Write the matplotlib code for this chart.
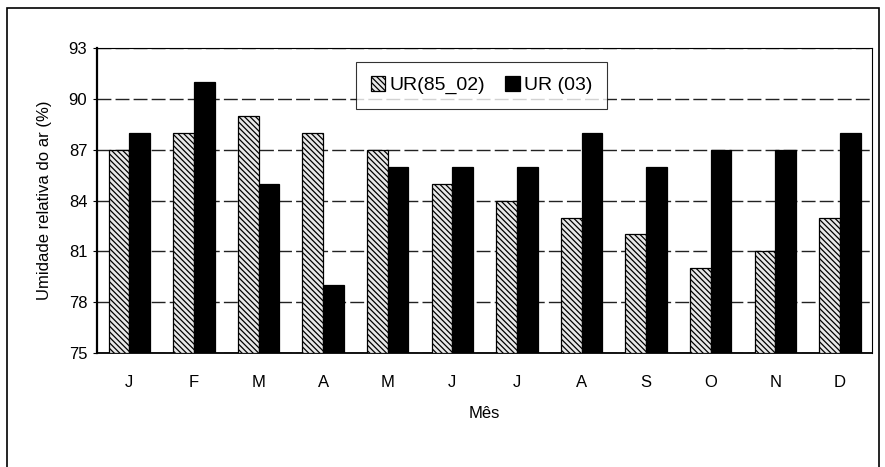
import matplotlib
matplotlib.use("Agg")
import matplotlib.pyplot as plt
import numpy as np
from matplotlib.patches import Rectangle

months = ["J", "F", "M", "A", "M", "J", "J", "A", "S", "O", "N", "D"]
ur_85_02 = [87, 88, 89, 88, 87, 85, 84, 83, 82, 80, 81, 83]
ur_03 = [88, 91, 85, 79, 86, 86, 86, 88, 86, 87, 87, 88]
yticks = [75, 78, 81, 84, 87, 90, 93]

plt.rcParams['font.family'] = ['Liberation Sans', 'DejaVu Sans']
plt.rcParams['hatch.color'] = '#444444'
plt.rcParams['hatch.linewidth'] = 0.9

fig = plt.figure(figsize=(8.85, 4.67), dpi=100)
fig.patches.append(Rectangle((0.008, -0.01), 0.985, 0.993, transform=fig.transFigure,
                             fill=False, edgecolor='black', linewidth=1.2))
ax = fig.add_axes([0.1096, 0.244, 0.876, 0.653])

x = np.arange(len(months))
w = 0.32
ax.bar(x - w / 2, [v - 75 for v in ur_85_02], w, bottom=75, color='#e8e8e8',
       edgecolor='black', hatch='\\\\\\\\\\\\', linewidth=0.9, label='UR(85_02)', zorder=3)
ax.bar(x + w / 2, [v - 75 for v in ur_03], w, bottom=75, color='black',
       edgecolor='black', linewidth=0.9, label='UR (03)', zorder=3)

ax.set_ylim(75, 93)
ax.set_xlim(-0.5, 11.5)
ax.set_yticks(yticks)
ax.set_xticks(x)
ax.set_xticklabels(months)
ax.tick_params(axis='both', labelsize=12, length=3, direction='out')
ax.tick_params(axis='y', pad=4)
ax.tick_params(axis='x', length=0, pad=16)
ax.grid(axis='y', color='#222222', linestyle=(0, (10, 3)), linewidth=1.0, zorder=0)
for s in ['top', 'right']:
    ax.spines[s].set_linewidth(0.8)
ax.spines['left'].set_linewidth(1.6)
ax.spines['bottom'].set_linewidth(1.3)

ax.set_ylabel('Umidade relativa do ar (%)', fontsize=12, labelpad=12)
ax.set_xlabel('Mês', fontsize=12, labelpad=11)

leg = ax.legend(loc='upper left', bbox_to_anchor=(0.334, 0.955), ncol=2, fontsize=14,
                frameon=True, fancybox=False, edgecolor='black', handlelength=0.75,
                handleheight=0.75, handletextpad=0.25, columnspacing=1.0, borderpad=0.75,
                borderaxespad=0)
leg.get_frame().set_linewidth(0.8)

fig.savefig('out.png', dpi=100)
